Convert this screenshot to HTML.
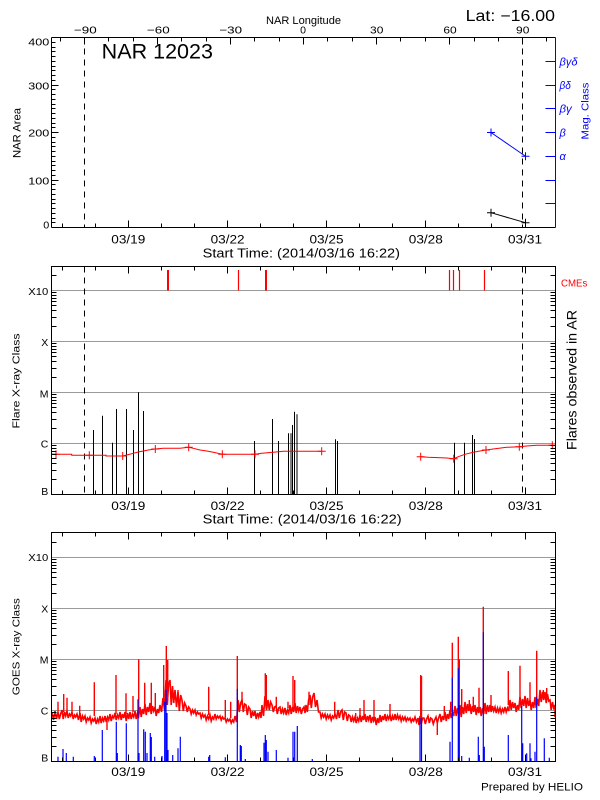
<!DOCTYPE html>
<html>
<head>
<meta charset="utf-8">
<style>
html,body{margin:0;padding:0;background:#fff;}
svg{display:block;}
text{font-family:"Liberation Sans",Arial,sans-serif;fill:#000;}
</style>
</head>
<body>
<svg width="600" height="800" viewBox="0 0 600 800" xmlns="http://www.w3.org/2000/svg">
<rect width="600" height="800" fill="#fff"/>
<defs>
<path id="dt" d="M62.5 0v-4M95.5 0v-4M128.5 0v-7M161.5 0v-4M194.5 0v-4M227.5 0v-7M260.5 0v-4M293.5 0v-4M326.5 0v-7M359.5 0v-4M392.5 0v-4M425.5 0v-7M458.5 0v-4M491.5 0v-4M525.5 0v-7"/>
<path id="lt" d="M51.5 479.5h5M51.5 470.5h5M51.5 463.5h5M51.5 458.5h5M51.5 454.5h5M51.5 451.5h5M51.5 448.5h5M51.5 445.5h5M51.5 428.5h5M51.5 419.5h5M51.5 412.5h5M51.5 407.5h5M51.5 403.5h5M51.5 400.5h5M51.5 397.5h5M51.5 394.5h5M51.5 377.5h5M51.5 368.5h5M51.5 361.5h5M51.5 356.5h5M51.5 352.5h5M51.5 349.5h5M51.5 346.5h5M51.5 343.5h5M51.5 326.5h5M51.5 317.5h5M51.5 310.5h5M51.5 305.5h5M51.5 301.5h5M51.5 298.5h5M51.5 295.5h5M51.5 292.5h5M51.5 275.5h5"/>
</defs>

<!-- ================= PANEL 1 ================= -->
<g stroke="#000" stroke-width="1" fill="none">
  <path d="M84.5 37.5V227.5M522.5 37.5V227.5" stroke-dasharray="6 5"/>
  <path d="M491 212.7L525.5 222.7"/>
  <path d="M487 212.7h8M491 208.7v8M521.5 222.7h8M525.5 218.7v8"/>
</g>
<g stroke="#0000ff" stroke-width="1" fill="none">
  <path d="M491 132.5L525.5 156.25"/>
  <path d="M487 132.5h8M491 128.5v8M521.5 156.25h8M525.5 152.25v8"/>
</g>
<g stroke="#000" stroke-width="1" fill="none">
  <path d="M51.5 37.5H555.5M51.5 227.5H555.5M51.5 37.5V227.5"/>
  <path d="M51.5 180.5h7M51.5 132.5h7M51.5 85.5h7M51.5 222.5h4M51.5 218.5h4M51.5 213.5h4M51.5 208.5h4M51.5 203.5h4M51.5 199.5h4M51.5 194.5h4M51.5 189.5h4M51.5 184.5h4M51.5 175.5h4M51.5 170.5h4M51.5 165.5h4M51.5 161.5h4M51.5 156.5h4M51.5 151.5h4M51.5 146.5h4M51.5 142.5h4M51.5 137.5h4M51.5 127.5h4M51.5 123.5h4M51.5 118.5h4M51.5 113.5h4M51.5 108.5h4M51.5 104.5h4M51.5 99.5h4M51.5 94.5h4M51.5 89.5h4M51.5 80.5h4M51.5 75.5h4M51.5 70.5h4M51.5 66.5h4M51.5 61.5h4M51.5 56.5h4M51.5 51.5h4M51.5 47.5h4M51.5 42.5h4"/>
  <path d="M84.5 37.5v7M157.5 37.5v7M230.5 37.5v7M303.5 37.5v7M376.5 37.5v7M449.5 37.5v7M522.5 37.5v7M60.5 37.5v4M108.5 37.5v4M133.5 37.5v4M181.5 37.5v4M206.5 37.5v4M254.5 37.5v4M279.5 37.5v4M327.5 37.5v4M352.5 37.5v4M400.5 37.5v4M425.5 37.5v4M474.5 37.5v4M498.5 37.5v4M546.5 37.5v4"/>
  <use href="#dt" transform="translate(0,227.5)"/>
</g>
<g stroke="#0000ff" stroke-width="1" fill="none">
  <path d="M555.5 37.5V227.5"/>
  <path d="M555.5 203.5h-10M555.5 180.5h-10M555.5 156.5h-10M555.5 132.5h-10M555.5 108.5h-10M555.5 85.5h-10M555.5 61.5h-10"/>
</g>

<text x="465.7" y="21" font-size="15.5" textLength="89.3" lengthAdjust="spacingAndGlyphs">Lat: −16.00</text>
<text x="101.7" y="58.3" font-size="21" textLength="111.3" lengthAdjust="spacingAndGlyphs">NAR 12023</text>
<text x="266" y="24" font-size="11" textLength="75" lengthAdjust="spacingAndGlyphs">NAR Longitude</text>
<g font-size="10.5" text-anchor="middle">
<text x="85.3" y="33.5" textLength="22.7" lengthAdjust="spacingAndGlyphs">−90</text>
<text x="158.3" y="33.5" textLength="22.7" lengthAdjust="spacingAndGlyphs">−60</text>
<text x="230.7" y="33.5" textLength="22.7" lengthAdjust="spacingAndGlyphs">−30</text>
<text x="303" y="33.5">0</text>
<text x="376.7" y="33.5" textLength="13.3" lengthAdjust="spacingAndGlyphs">30</text>
<text x="450" y="33.5" textLength="13.3" lengthAdjust="spacingAndGlyphs">60</text>
<text x="522.7" y="33.5" textLength="13.3" lengthAdjust="spacingAndGlyphs">90</text>
</g>
<g font-size="10" text-anchor="end">
<text x="49.3" y="45.7" textLength="21" lengthAdjust="spacingAndGlyphs">400</text>
<text x="49.3" y="89.3" textLength="21" lengthAdjust="spacingAndGlyphs">300</text>
<text x="49.3" y="136.7" textLength="21" lengthAdjust="spacingAndGlyphs">200</text>
<text x="49.3" y="184.3" textLength="21" lengthAdjust="spacingAndGlyphs">100</text>
<text x="49.3" y="228.3" textLength="6" lengthAdjust="spacingAndGlyphs">0</text>
</g>
<text transform="translate(20.7,133) rotate(-90)" font-size="11" text-anchor="middle" textLength="50" lengthAdjust="spacingAndGlyphs">NAR Area</text>
<g font-size="11" font-style="italic">
<text x="559.5" y="65.3" textLength="18" lengthAdjust="spacingAndGlyphs" style="fill:#0000ff">βγδ</text>
<text x="559.5" y="89" textLength="11.3" lengthAdjust="spacingAndGlyphs" style="fill:#0000ff">βδ</text>
<text x="559.5" y="112.7" textLength="12.3" lengthAdjust="spacingAndGlyphs" style="fill:#0000ff">βγ</text>
<text x="559.5" y="136.5" style="fill:#0000ff">β</text>
<text x="559.5" y="160" style="fill:#0000ff">α</text>
</g>
<text transform="translate(588.7,111) rotate(-90)" font-size="10" text-anchor="middle" textLength="57" lengthAdjust="spacingAndGlyphs" style="fill:#0000ff">Mag. Class</text>
<g font-size="11.5" text-anchor="middle">
<text x="128.3" y="243.3" textLength="34" lengthAdjust="spacingAndGlyphs">03/19</text>
<text x="227.6" y="243.3" textLength="34" lengthAdjust="spacingAndGlyphs">03/22</text>
<text x="326.5" y="243.3" textLength="34" lengthAdjust="spacingAndGlyphs">03/25</text>
<text x="425.8" y="243.3" textLength="34" lengthAdjust="spacingAndGlyphs">03/28</text>
<text x="525" y="243.3" textLength="34" lengthAdjust="spacingAndGlyphs">03/31</text>
</g>
<text x="202.7" y="257.5" font-size="13" textLength="197.3" lengthAdjust="spacingAndGlyphs">Start Time: (2014/03/16 16:22)</text>

<!-- ================= PANEL 2 ================= -->
<g stroke="#999" stroke-width="1" fill="none">
  <path d="M51.5 290.5H555.5M51.5 341.5H555.5M51.5 392.5H555.5M51.5 443.5H555.5"/>
</g>
<g stroke="#ff0000" fill="none">
  <path d="M168 270V290.5M266 270V290.5" stroke-width="2"/>
  <path d="M238.5 270V290.5M449.5 270V290.5M453.5 270V290.5M459.5 270V290.5M484.5 270V290.5" stroke-width="1.2"/>
</g>
<g stroke="#000" stroke-width="1" fill="none">
  <path d="M84.5 266.5V494.5M522.5 266.5V494.5" stroke-dasharray="6 5"/>
  <path d="M93.5 494V430M102.5 494V415.7M112.5 494V442.7M116.5 494V409M126.5 494V409M133.5 494V430M138.5 494V392.3M143.5 494V411M254.5 494V441M272.5 494V419M278.5 494V441M288.5 494V433.3M291 494V433.3M292.5 494V425M294.5 494V411.7M297 494V414.3M335.5 494V439.3M337.5 494V441M454.5 494V442.7M464.5 494V442.7M472.5 494V435M474.5 494V439"/>
</g>
<g stroke="#ff0000" stroke-width="1" fill="none">
  <polyline points="52,454.3 71.7,454.3 71.7,455.3 106,455.3 106,456 122.7,456 126.7,455 133.3,453.3 138.3,452 143.3,451 148.3,450 155.3,449 163.3,448.3 180,448.3 188.7,447.3 193.3,448.3 200,450 206.7,451 213.3,452.3 222.3,454.3 255,454.3 261.7,453.3 273.3,452.3 283.3,451.3 321.7,451.3"/>
  <polyline points="420.7,456.7 428.3,457.3 446.7,458 453.7,458.7 458.3,456.7 465,454.3 473.3,452.3 480,451 486,450 493.3,449 506.7,447.3 519.3,446.7 526.7,446 536.7,445.3 555,445.3"/>
  <path d="M52 454.3h8M56 450.3v8M85.3 455.3h8M89.3 451.3v8M118.7 456h8M122.7 452v8M151.3 449h8M155.3 445v8M184.7 447.3h8M188.7 443.3v8M218.3 454.3h8M222.3 450.3v8M251 454.3h8M255 450.3v8M317.7 451.3h8M321.7 447.3v8M416.7 456.7h8M420.7 452.7v8M449.7 458.7h8M453.7 454.7v8M482 450h8M486 446v8M515.3 446.7h8M519.3 442.7v8M548.3 445.3h7M552.3 441.3v8"/>
</g>
<g stroke="#000" stroke-width="1" fill="none">
  <path d="M51.5 266.5H555.5V494.5H51.5Z"/>
  <use href="#lt"/>
  <use href="#lt" transform="translate(607,0) scale(-1,1)"/>
  <use href="#dt" transform="translate(0,494.5)"/>
  <use href="#dt" transform="translate(0,266.5) scale(1,-1)"/>
</g>
<g font-size="10.5" text-anchor="end">
<text x="48.3" y="295" textLength="20" lengthAdjust="spacingAndGlyphs">X10</text>
<text x="48.3" y="346">X</text>
<text x="48.5" y="397.3">M</text>
<text x="48.3" y="447.7">C</text>
<text x="48.3" y="495">B</text>
</g>
<text transform="translate(19.3,381) rotate(-90)" font-size="10.5" text-anchor="middle" textLength="95" lengthAdjust="spacingAndGlyphs">Flare X-ray Class</text>
<text transform="translate(576.7,380) rotate(-90)" font-size="14" text-anchor="middle" textLength="140" lengthAdjust="spacingAndGlyphs">Flares observed in AR</text>
<text x="561" y="286.7" font-size="10" textLength="26.3" lengthAdjust="spacingAndGlyphs" style="fill:#ff0000">CMEs</text>
<g font-size="11.5" text-anchor="middle">
<text x="128.3" y="510" textLength="34" lengthAdjust="spacingAndGlyphs">03/19</text>
<text x="227.6" y="510" textLength="34" lengthAdjust="spacingAndGlyphs">03/22</text>
<text x="326.5" y="510" textLength="34" lengthAdjust="spacingAndGlyphs">03/25</text>
<text x="425.8" y="510" textLength="34" lengthAdjust="spacingAndGlyphs">03/28</text>
<text x="525" y="510" textLength="34" lengthAdjust="spacingAndGlyphs">03/31</text>
</g>
<text x="202.7" y="523.5" font-size="13" textLength="199" lengthAdjust="spacingAndGlyphs">Start Time: (2014/03/16 16:22)</text>

<!-- ================= PANEL 3 ================= -->
<g stroke="#999" stroke-width="1" fill="none">
  <path d="M51.5 557.5H555.5M51.5 608.5H555.5M51.5 659.5H555.5M51.5 710.5H555.5"/>
</g>
<polyline fill="none" stroke="#ff0000" stroke-width="1.6" stroke-linejoin="miter" points="52,713 53.5,720 55,711 56.5,719 58,712 59.3,719 60.6,714 62,710 63.2,719 64.5,712 65.7,716 67,711 68.2,718 69.5,714 70.7,716 72,712 73.2,719 74.5,715 75.7,717 77,714 78.5,720 80,713 81.2,722 82.5,716 83.7,719 85,716 86.2,722 87.5,718 88.7,720 90,717 91.2,723 92.5,719 93.7,721 95,718 96.2,724 97.5,719 98.7,722 100,716 101.2,723 102.5,718 103.7,721 105,716 106.2,722 107.5,717 108.7,720 110,714 111.2,721 112.5,716 113.7,718 115,713 116.2,720 117.5,715 118.7,718 120,712 121.2,720 122.5,714 123.7,718 125,712 126.2,721 127.5,713 128.7,719 130,712 131.2,719 132.5,714 133.7,717 135,711 136.2,719 137.5,713 138.7,716 140,707 141.2,717 142.5,709 143.7,714 145,704 146.2,715 147.5,707 148.7,712 150,703 151.2,714 152.5,706 153.7,711 155,707 156.2,716 157.5,709 158.7,713 160,705 161.5,712 163,698 164.5,710 166,680 167.3,705 168.6,684 170,680 171.2,705 172.5,686 173.7,703 175,690 176.5,707 178,692 179.3,711 180.6,695 182,700 183.3,711 184.6,703 186,706 187.3,712 188.6,707 190,709 191.2,714 192.5,710 193.7,713 195,710 196.2,715 197.5,712 198.7,714 200,713 201.2,718 202.5,714 203.7,717 205,715 206.2,720 207.5,716 208.7,719 210,715 211.2,721 212.5,717 213.7,719 215,714 216.2,719 217.5,716 218.7,718 220,716 221.2,720 222.5,717 223.7,719 225,718 226.2,722 227.5,719 228.7,721 230,719 231.2,723 232.5,720 233.7,722 235,716 236.5,722 238,700 239.3,712 240.6,703 242,700 243.3,712 244.6,704 246,705 247.3,715 248.6,707 250,709 251.2,718 252.5,711 253.7,716 255,711 256.2,719 257.5,713 258.7,717 260,712 261,718 262,705 263.5,716 265,696 266.5,710 268,700 269.3,710 270.6,702 272,705 273.3,712 274.6,707 276,706 277.3,714 278.6,708 280,707 281.2,714 282.5,709 283.7,713 285,708 286.2,715 287.5,710 288.7,713 290,705 291.2,714 292.5,707 293.7,712 295,703 296.2,713 297.5,706 298.7,711 300,707 301.3,714 302.6,709 304,707 305,713 306,705 307.3,712 308.6,700 310,695 311.3,708 312.6,697 314,693 315.5,707 317,700 318.5,712 320,712 321.2,718 322.5,714 323.7,717 325,714 326.2,719 327.5,715 328.7,718 330,715 331.2,720 332.5,716 333.7,718 335,714 336.5,719 338,710 339.3,718 340.6,712 342,710 343.3,720 344.6,712 346,713 347.3,721 348.6,715 350,716 351.2,722 352.5,717 353.7,721 355,717 356.2,723 357.5,718 358.7,721 360,715 361.2,722 362.5,716 363.7,720 365,714 366.2,722 367.5,716 368.7,720 370,715 371.2,723 372.5,717 373.7,721 375,717 376.2,725 377.5,718 378.7,723 380,715 381.2,722 382.5,716 383.7,720 385,714 386.2,721 387.5,716 388.7,719 390,715 391.2,721 392.5,716 393.7,720 395,714 396.2,720 397.5,715 398.7,719 400,716 401.2,721 402.5,717 403.7,720 405,717 406.2,721 407.5,718 408.7,720 410,718 411.2,722 412.5,719 413.7,721 415,717 416.5,722 418,718 419,725 420,716 421.3,724 422.6,718 424,718 425.3,724 426.6,719 428,716 429.3,723 430.6,718 432,719 433.3,724 434.6,720 436,717 437.3,723 438.6,718 440,714 441.2,722 442.5,716 443.7,720 445,712 446.2,721 447.5,714 448.7,719 450,710 451.2,718 452.5,712 453.7,716 455,706 456.2,716 457.5,708 458.7,714 460,705 461.2,717 462.5,707 463.7,714 465,702 466.2,713 467.5,704 468.7,711 470,704 471.2,714 472.5,706 473.7,712 475,705 476.2,715 477.5,707 478.7,713 480,707 481.2,716 482.5,708 483.7,714 485,703 486.2,714 487.5,705 488.7,712 490,705 491.2,712 492.5,706 493.7,711 495,707 496.2,713 497.5,708 498.7,712 500,708 501.2,713 502.5,709 503.7,712 505,707 506.2,712 507.5,708 508.7,711 510,700 511.2,710 512.5,702 513.7,708 515,703 516.2,712 517.5,705 518.7,710 520,697 521.2,708 522.5,699 523.7,706 525,696 526.2,708 527.5,698 528.7,706 530,700 531.2,710 532.5,702 533.7,708 535,697 536.2,708 537.5,699 538.7,706 540,690 541.2,702 542.5,692 543.7,700 545,692 546.2,703 547.5,694 548.7,701 550,700 551.2,710 552.5,702 553.7,708 555,705 555,717"/>
<path stroke="#ff0000" stroke-width="1.4" fill="none" d="M58 712V701.7M63.7 712V694M67 712V697.7M72 712V701.7M79.7 714V705.7M94.3 716V682.3M107 720V730M116 714V675M126 714V693.3M133 712V696M138.7 712V659.3M144.7 710V682.7M151.3 708V682.7M155.3 708V693M163.7 705V665M166.3 700V646M167.7 700V660M178 700V690M208.7 715V686.7M225.3 718V700M230.7 718V701.7M237.3 712V656M242 705V691.7M265.3 705V673.3M266.3 705V675M276.3 708V696.7M288 708V701.7M293 708V676M294.7 708V680M309 705V691.7M334.7 715V701.7M355.7 718V713M360 718V708M364 718V700M374 718V700M390 718V704M420.7 720V675M421.5 720V676M437.3 720V735M444.3 716V706M450.7 712V701.7M452.3 712V642.7M458.3 710V636.7M459.3 710V659.3M461.7 710V689M469.3 710V700M473.3 710V696.7M479 710V687.7M483.3 710V606.7M491 710V695M508.3 705V671M520 703V665.7M530 703V682.3M536.7 700V650.7M543.3 698V690M546.7 698V688"/>
<path stroke="#0000ff" stroke-width="1.2" fill="none" d="M58 761V756.7M63 761V749M66.3 761V753M73.3 761V756.7M94.3 761V756M102.3 761V730M116.3 761V721.7M117.3 761V753M126.3 761V723.3M138 761V699.3M139 761V753M143.7 761V729.3M145.3 761V731.7M147 761V753M150.3 761V733M151.3 761V737M154.7 761V756.7M162 761V756M164.7 761V701.7M166 761V690M167 761V713M168 761V750M172.7 761V755M178 761V748.3M180.3 761V736.7M208.7 761V756.7M209.7 761V755M225.3 761V757.3M237.3 761V689M240.3 761V745M241.3 761V746M245.3 761V759M264 761V742.7M265.3 761V735M266.3 761V740M268 761V751.7M276.3 761V750M288 761V757.7M293 761V731.7M294.7 761V731.7M297.3 761V726M312.3 761V759M420 761V718.3M421.5 761V718.3M450 761V741.7M452.3 761V677.7M458.3 761V668.3M459.3 761V705M461.7 761V756M469.3 761V757.7M478.3 761V736.7M479.3 761V755M483.3 761V632.3M484.3 761V746.7M508.3 761V735M521.7 761V706M522.7 761V743.3M526.7 761V753.3M530 761V743.3M531 761V758.3M535 761V751.7M536.7 761V696.7M544.3 761V738.3M549.3 761V757.7"/>
<g stroke="#000" stroke-width="1" fill="none">
  <path d="M51.5 532.5H555.5V761.5H51.5Z"/>
  <use href="#lt" transform="translate(0,267)"/>
  <use href="#lt" transform="translate(607,267) scale(-1,1)"/>
  <use href="#dt" transform="translate(0,761.5)"/>
  <use href="#dt" transform="translate(0,532.5) scale(1,-1)"/>
</g>
<g font-size="10.5" text-anchor="end">
<text x="48.3" y="561" textLength="20" lengthAdjust="spacingAndGlyphs">X10</text>
<text x="48.3" y="612.7">X</text>
<text x="48.5" y="663.3">M</text>
<text x="48.3" y="714.3">C</text>
<text x="48.3" y="761.7">B</text>
</g>
<text transform="translate(19.3,646.7) rotate(-90)" font-size="10.5" text-anchor="middle" textLength="97" lengthAdjust="spacingAndGlyphs">GOES X-ray Class</text>
<g font-size="11.5" text-anchor="middle">
<text x="128.3" y="776" textLength="34" lengthAdjust="spacingAndGlyphs">03/19</text>
<text x="227.6" y="776" textLength="34" lengthAdjust="spacingAndGlyphs">03/22</text>
<text x="326.5" y="776" textLength="34" lengthAdjust="spacingAndGlyphs">03/25</text>
<text x="425.8" y="776" textLength="34" lengthAdjust="spacingAndGlyphs">03/28</text>
<text x="525" y="776" textLength="34" lengthAdjust="spacingAndGlyphs">03/31</text>
</g>
<text x="481" y="790.5" font-size="11" textLength="102" lengthAdjust="spacingAndGlyphs">Prepared by HELIO</text>
</svg>
</body>
</html>
